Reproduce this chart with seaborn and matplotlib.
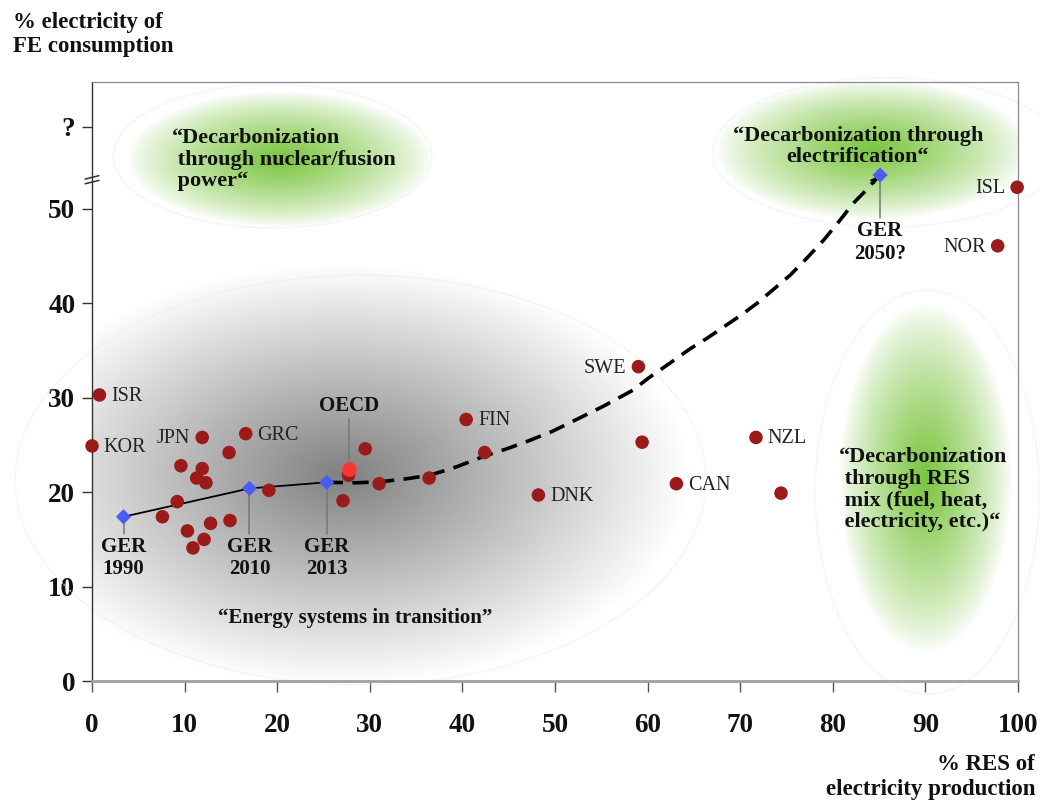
import numpy as np
import pandas as pd
import matplotlib
matplotlib.use("Agg")
import matplotlib.pyplot as plt
import seaborn as sns
from matplotlib.patches import Ellipse
from matplotlib.transforms import blended_transform_factory

# ---------------- data ----------------
country_labels = ["ISR", "KOR", "JPN", "GRC", "", "", "", "", "", "", "", "", "", "", "", "",
                  "", "", "", "", "", "", "FIN", "", "DNK", "SWE", "", "CAN", "NZL", "",
                  "NOR", "ISL"]
res_share = [0.8, 0.0, 11.9, 16.6, 14.8, 9.6, 11.9, 11.3, 12.3, 9.2, 7.6, 10.3, 10.9, 12.1,
             12.8, 14.9, 19.1, 27.7, 27.1, 29.5, 31.0, 36.4, 40.4, 42.4, 48.2, 59.0, 59.4,
             63.1, 71.7, 74.4, 97.8, 99.9]
elec_share = [30.3, 24.9, 25.8, 26.2, 24.2, 22.8, 22.5, 21.5, 21.0, 19.0, 17.4, 15.9, 14.1,
              15.0, 16.7, 17.0, 20.2, 21.8, 19.1, 24.6, 20.9, 21.5, 27.7, 24.2, 19.7, 33.3,
              25.3, 20.9, 25.8, 19.9, 46.1, 52.3]
left_labels = ["JPN", "SWE", "NOR", "ISL"]

oecd_res = [27.8]
oecd_elec = [22.4]

ger_years = ["1990", "2010", "2013", "2050?"]
ger_res = [3.4, 17.0, 25.35, 85.1]
ger_elec = [17.4, 20.4, 21.05, 53.6]

trend_res = [25.35, 28.5, 31.1, 33.8, 36.5, 39.4, 42.3, 44.8, 47.3, 49.6, 51.9, 55.2, 58.4,
             60.1, 62.3, 64.6, 66.4, 68.2, 70.0, 71.8, 73.6, 75.4, 77.2, 79.0, 80.6, 82.2,
             83.5, 84.7]
trend_elec = [21.05, 21.0, 21.1, 21.4, 21.8, 22.7, 23.8, 24.6, 25.5, 26.4, 27.5, 29.1, 30.8,
              32.1, 33.6, 35.2, 36.3, 37.5, 38.7, 40.0, 41.5, 43.0, 44.8, 46.7, 48.6, 50.6,
              51.9, 53.2]

x_ticks = [0, 10, 20, 30, 40, 50, 60, 70, 80, 90, 100]
y_ticks = [0, 10, 20, 30, 40, 50, 58.7]
y_ticklabels = ["0", "10", "20", "30", "40", "50", "?"]

zone_texts = ["\u201cDecarbonization\n through nuclear/fusion\n power\u201c",
              "\u201cDecarbonization through\nelectrification\u201c",
              "\u201cDecarbonization\n through RES\n mix (fuel, heat,\n electricity, etc.)\u201c",
              "\u201cEnergy systems in transition\u201d"]

# ---------------- style ----------------
sns.set_theme(style="white")
plt.rcParams["font.family"] = ["Liberation Serif", "DejaVu Serif"]

fig = plt.figure(figsize=(10.4, 8.01), dpi=100)
ax = fig.add_axes([0.0885, 0.1498, 0.8904, 0.7478])
ax.set_xlim(0, 100)
ax.set_ylim(0, 63.45)


def glow(ax, cx, cy, rx, ry, rgb, amax, power=1.0):
    n = 300
    xs = np.linspace(cx - rx, cx + rx, n)
    ys = np.linspace(cy - ry, cy + ry, n)
    X, Y = np.meshgrid(xs, ys)
    r = np.sqrt(((X - cx) / rx) ** 2 + ((Y - cy) / ry) ** 2)
    a = amax * np.clip(1 - r, 0, 1) ** power
    img = np.zeros((n, n, 4))
    img[..., 0], img[..., 1], img[..., 2] = rgb
    img[..., 3] = a
    ax.imshow(img, extent=[cx - rx, cx + rx, cy - ry, cy + ry], origin="lower",
              aspect="auto", interpolation="bilinear", zorder=0)


# background glows
glow(ax, 27.0, 21.8, 38, 22.5, (0.0, 0.0, 0.0), 0.5, 1.0)
green = (0.45, 0.76, 0.2)
glow(ax, 20.3, 55.3, 16.5, 7.2, green, 0.95, 0.8)
glow(ax, 84.3, 56.2, 17.0, 7.4, green, 0.95, 0.8)
glow(ax, 90.0, 21.5, 9.3, 18.5, green, 0.95, 0.8)

# faint dotted outlines
for (cx, cy, w, h) in [(29.0, 21.3, 74.6, 43.4), (19.5, 55.6, 34.4, 15.2),
                       (85.9, 56.0, 37.8, 15.8), (90.2, 20.0, 24.2, 42.8)]:
    e = Ellipse((cx, cy), w, h, fill=False, ec="#ececec", lw=1.0, ls=(0, (1, 1)),
                zorder=1, clip_on=False)
    ax.add_patch(e)

# ---------------- marks ----------------
df_c = pd.DataFrame({"res": res_share, "elec": elec_share, "label": country_labels})
sns.scatterplot(data=df_c, x="res", y="elec", ax=ax, s=95, color="#9b1b1b",
                edgecolor="none", zorder=5, clip_on=False, legend=False)

df_t = pd.DataFrame({"res": trend_res, "elec": trend_elec})
sns.lineplot(data=df_t, x="res", y="elec", ax=ax, sort=False, color="black", lw=2.6,
             linestyle=(0, (4.5, 2.6)), zorder=4, estimator=None)
ax.annotate("", xy=(trend_res[-1], trend_elec[-1] + 0.2),
            xytext=(trend_res[-2], trend_elec[-2]),
            arrowprops=dict(arrowstyle="-|>", color="black", lw=0,
                            mutation_scale=12, shrinkA=0, shrinkB=0), zorder=4)

df_g = pd.DataFrame({"res": ger_res, "elec": ger_elec, "year": ger_years})
sns.lineplot(data=df_g.iloc[:3], x="res", y="elec", ax=ax, sort=False, color="black",
             lw=1.3, zorder=4, estimator=None)
sns.scatterplot(data=df_g, x="res", y="elec", ax=ax, marker="D", s=60, color="#4a5cf2",
                edgecolor="none", zorder=6, legend=False)

df_o = pd.DataFrame({"res": oecd_res, "elec": oecd_elec})
sns.scatterplot(data=df_o, x="res", y="elec", ax=ax, s=110, color="#ff3535",
                edgecolor="none", zorder=7, legend=False)

# country labels
for x, y, lab in zip(res_share, elec_share, country_labels):
    if not lab:
        continue
    if lab in left_labels:
        ax.annotate(lab, (x, y), xytext=(-8.5, -1), textcoords="offset points",
                    ha="right", va="center", fontsize=14.5, color="#222222", zorder=8)
    else:
        ax.annotate(lab, (x, y), xytext=(8.5, -1), textcoords="offset points",
                    ha="left", va="center", fontsize=14.5, color="#222222", zorder=8)

# GER labels with connectors
for i, (x, y, yr) in enumerate(zip(ger_res, ger_elec, ger_years)):
    end = 15.6 if i < 3 else 49.0
    ax.plot([x, x], [y - 0.5, end], color="#777777", lw=1.1, zorder=3)
    ax.text(x, end - 0.3, "GER\n" + yr, ha="center", va="top", fontsize=15,
            fontweight="bold", color="#111111", linespacing=1.15, zorder=8)

# OECD label
ax.plot([oecd_res[0], oecd_res[0]], [oecd_elec[0] + 0.5, 27.8], color="#777777", lw=1.1,
        zorder=3)
ax.text(oecd_res[0], 28.1, "OECD", ha="center", va="bottom", fontsize=15,
        fontweight="bold", color="#111111", zorder=8)

# zone texts
ax.text(8.6, 55.2, zone_texts[0], ha="left", va="center", fontsize=16, fontweight="bold",
        color="#111111", linespacing=1.1, zorder=8)
ax.text(82.7, 56.6, zone_texts[1], ha="center", va="center", fontsize=16,
        fontweight="bold", color="#111111", linespacing=1.1, zorder=8)
ax.text(80.7, 20.3, zone_texts[2], ha="left", va="center", fontsize=16,
        fontweight="bold", color="#111111", linespacing=1.1, zorder=8)
ax.text(28.4, 6.7, zone_texts[3], ha="center", va="center", fontsize=15,
        fontweight="bold", color="#111111", zorder=8)

# ---------------- axes ----------------
ax.set_xticks(x_ticks)
ax.set_xticklabels([str(t) for t in x_ticks])
ax.set_yticks(y_ticks)
ax.set_yticklabels(y_ticklabels)
ax.set_xlabel("")
ax.set_ylabel("")
for lab in ax.get_xticklabels() + ax.get_yticklabels():
    lab.set_fontweight("bold")
    lab.set_fontsize(19.5)
    lab.set_color("#111111")
ax.tick_params(axis="x", direction="out", length=8, width=1, color="#555555", pad=15,
               bottom=True)
ax.tick_params(axis="y", direction="out", length=7, width=1, color="#333333", pad=5,
               left=True)
ax.spines["left"].set_color("#333333")
ax.spines["left"].set_linewidth(1.0)
ax.spines["bottom"].set_color("#a0a0a0")
ax.spines["bottom"].set_linewidth(2.0)
for s in ["top", "right"]:
    ax.spines[s].set_color("#8a8a8a")
    ax.spines[s].set_linewidth(0.9)
    ax.spines[s].set_visible(True)

# axis break marks
tr = blended_transform_factory(ax.transAxes, ax.transData)
for yb in (52.85, 53.35):
    ax.plot([-0.0075, 0.0075], [yb - 0.18, yb + 0.18], color="#333333", lw=1.1,
            transform=tr, clip_on=False, zorder=9)

# axis titles
fig.text(13 / 1040, 1 - 12 / 801, "% electricity of\nFE consumption", ha="left", va="top",
         fontsize=16.5, fontweight="bold", color="#111111", linespacing=1.2)
fig.text(1035 / 1040, 1 - 800 / 801, "% RES of\nelectricity production", ha="right",
         va="bottom", fontsize=16.5, fontweight="bold", color="#111111",
         linespacing=1.25, multialignment="right")

fig.savefig("out.png", dpi=100)
